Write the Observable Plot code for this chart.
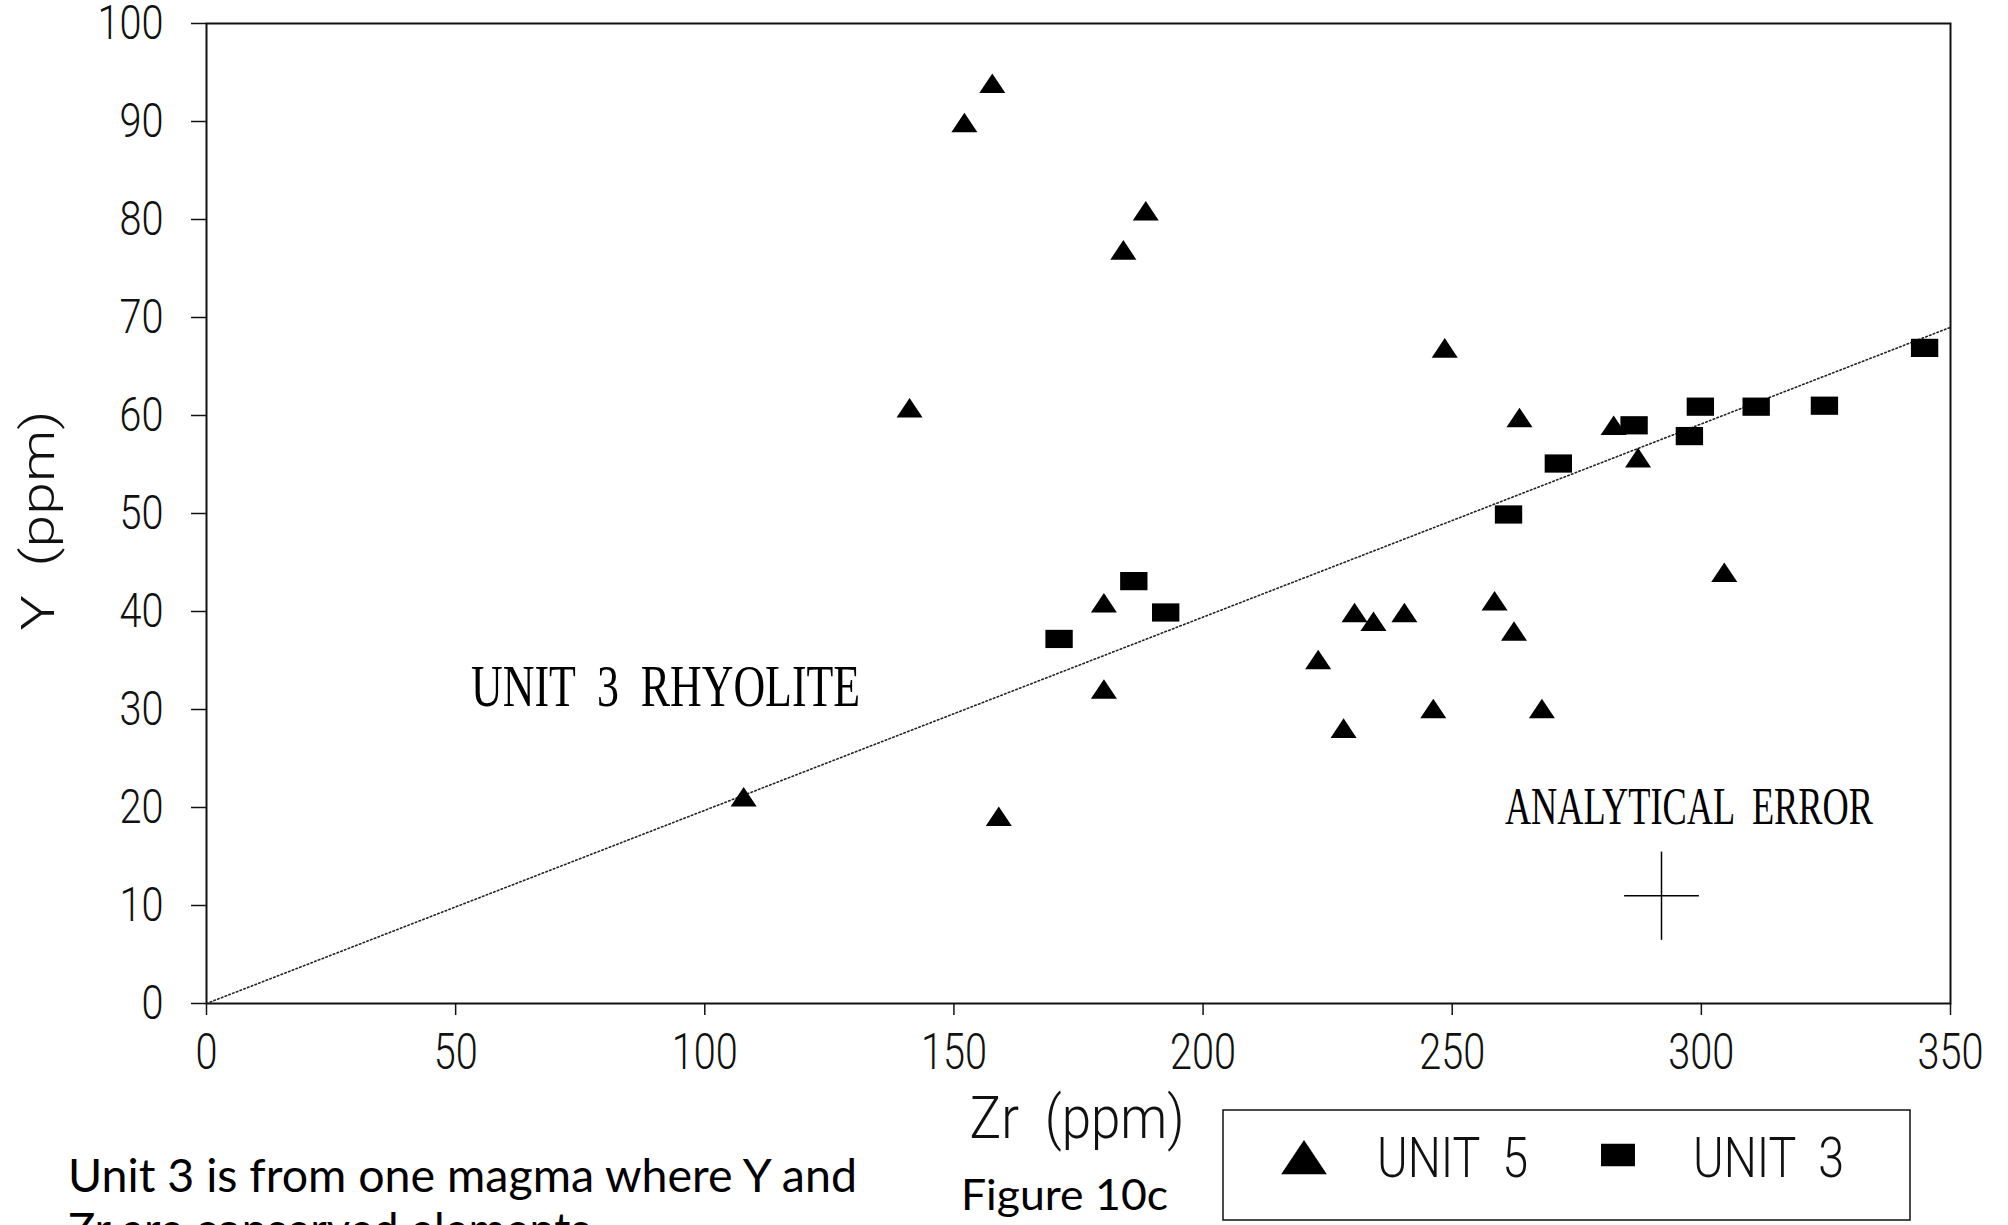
<!DOCTYPE html>
<html>
<head>
<meta charset="utf-8">
<script src="https://cdn.jsdelivr.net/npm/d3@7"></script>
<script src="https://cdn.jsdelivr.net/npm/@observablehq/plot@0.6"></script>
<style>
  html, body { margin: 0; padding: 0; background: #fff; overflow: hidden; }
  #chart { width: 2008px; height: 1225px; }
</style>
</head>
<body>
<div id="chart"></div>
<script>
// ---- data ----
const unit5Zr = [157.7, 152.1, 188.5, 184.0, 141.1, 248.5, 263.5, 282.4, 287.3, 304.6, 258.5, 230.4,
                 234.2, 240.4, 262.4, 223.1, 246.2, 268.0, 228.2, 180.1, 180.1, 159.0, 107.8];
const unit5Y  = [93.9, 89.9, 80.9, 76.9, 60.8, 66.9, 59.8, 59.0, 55.7, 44.0, 41.1, 39.9,
                 39.0, 39.9, 38.0, 35.1, 30.1, 30.1, 28.1, 40.9, 32.1, 19.1, 21.1];
const unit3Zr = [344.8, 299.8, 311.0, 324.7, 286.5, 297.6, 271.3, 261.3, 186.1, 192.5, 171.1];
const unit3Y  = [66.9, 60.9, 60.9, 61.0, 59.0, 57.9, 55.1, 49.9, 43.1, 39.9, 37.2];
const trendZr = [0, 350];
const trendY  = [0, 69];
const errorZr = [292];
const errorY  = [11];
const errorHalfZr = [7.5];
const errorHalfY  = [4.5];
const xTicks = [0, 50, 100, 150, 200, 250, 300, 350];
const yTicks = [0, 10, 20, 30, 40, 50, 60, 70, 80, 90, 100];
const seriesNames = ["UNIT  5", "UNIT  3"];
const rhyoliteLabel = [{zr: 53.1, y: 32.3, text: "UNIT  3  RHYOLITE"}];
const errorLabel = [{zr: 297.5, y: 20.0, text: "ANALYTICAL  ERROR"}];
const xLabel = "Zr  (ppm)";
const yLabel = "Y  (ppm)";
const captionLines = ["Unit 3 is from one magma where Y and", "Zr are conserved elements"];
const figureLabel = "Figure 10c";

// ---- tables built from the arrays ----
const unit5 = unit5Zr.map((zr, i) => ({zr, y: unit5Y[i]}));
const unit3 = unit3Zr.map((zr, i) => ({zr, y: unit3Y[i]}));
const trend = trendZr.map((zr, i) => ({zr, y: trendY[i]}));
const errorBar = errorZr.map((zr, i) => ({zr, y: errorY[i], dzr: errorHalfZr[i], dy: errorHalfY[i]}));

// flattened marker shapes as in the scanned plot
const flatTriangle = {draw(ctx, size) {
  const w = Math.sqrt(size / 0.375), h = 0.75 * w;
  ctx.moveTo(0, -h / 2); ctx.lineTo(w / 2, h / 2); ctx.lineTo(-w / 2, h / 2); ctx.closePath();
}};
const flatSquare = {draw(ctx, size) {
  const w = Math.sqrt(size * 1.5), h = w / 1.5;
  ctx.rect(-w / 2, -h / 2, w, h);
}};

const thinFont = "Roboto, 'Liberation Sans', sans-serif";
const serifFont = "'Liberation Serif', 'DejaVu Serif', serif";

const chart = Plot.plot({
  width: 2008,
  height: 1225,
  marginLeft: 206,
  marginRight: 58,
  marginTop: 23,
  marginBottom: 222,
  x: {domain: [0, 350]},
  y: {domain: [0, 100]},
  style: {background: "#fff", color: "#111", fontFamily: thinFont},
  marks: [
    Plot.frame({stroke: "#111", strokeWidth: 2}),
    Plot.axisX({ticks: xTicks, tickSize: 12, tickPadding: 18, fontSize: 50, fontWeight: 300, label: null, strokeWidth: 1.5}),
    Plot.axisY({ticks: yTicks, tickSize: 15, tickPadding: 28, fontSize: 49, fontWeight: 300, label: null, strokeWidth: 1.5}),
    Plot.line(trend, {x: "zr", y: "y", stroke: "#222", strokeWidth: 1.6, strokeDasharray: "1.5,2.5"}),
    Plot.dot(unit5, {x: "zr", y: "y", symbol: flatTriangle, r: 9, fill: "#000", stroke: "none"}),
    Plot.dot(unit3, {x: "zr", y: "y", symbol: flatSquare, r: 12.6, fill: "#000", stroke: "none"}),
    Plot.link(errorBar, {x1: d => d.zr - d.dzr, x2: d => d.zr + d.dzr, y1: "y", y2: "y", stroke: "#000", strokeWidth: 1.5}),
    Plot.link(errorBar, {x1: "zr", x2: "zr", y1: d => d.y - d.dy, y2: d => d.y + d.dy, stroke: "#000", strokeWidth: 1.5}),
    Plot.text(rhyoliteLabel, {x: "zr", y: "y", text: "text", textAnchor: "start", fontFamily: serifFont, fontSize: 60, fill: "#000", className: "anno-rhy"}),
    Plot.text(errorLabel, {x: "zr", y: "y", text: "text", textAnchor: "middle", fontFamily: serifFont, fontSize: 53, fill: "#000", className: "anno-err"}),
    Plot.text([xLabel], {frameAnchor: "bottom-left", dx: 763, dy: 134, textAnchor: "start", fontSize: 60, fontWeight: 300, fill: "#111", className: "lab-x"}),
    Plot.text([yLabel], {frameAnchor: "left", dx: -167, dy: 117, rotate: -90, textAnchor: "start", fontSize: 46, fontWeight: 300, fill: "#111", className: "lab-y"})
  ]
});

document.getElementById("chart").appendChild(chart);

const svg = d3.select(chart);
// condensed plotter-style lettering
svg.selectAll('g[aria-label="x-axis tick label"] text, g[aria-label="y-axis tick label"] text')
  .each(function() {
    const t = d3.select(this).text();
    d3.select(this).attr("textLength", 22 * t.length).attr("lengthAdjust", "spacingAndGlyphs");
  });
svg.selectAll("g.anno-rhy text").attr("textLength", 389).attr("lengthAdjust", "spacingAndGlyphs");
svg.selectAll("g.anno-err text").attr("textLength", 368).attr("lengthAdjust", "spacingAndGlyphs");
svg.selectAll("g.lab-x text").attr("textLength", 215).attr("lengthAdjust", "spacingAndGlyphs");
svg.selectAll("g.lab-y text").attr("textLength", 220).attr("lengthAdjust", "spacingAndGlyphs");

// ---- legend box ----
const legend = svg.append("g").attr("class", "legend").attr("text-anchor", "start");
legend.append("rect").attr("x", 1223).attr("y", 1110).attr("width", 687).attr("height", 110)
  .attr("fill", "none").attr("stroke", "#111").attr("stroke-width", 1.5);
legend.append("path").attr("d", d3.symbol(flatTriangle, 782)()).attr("transform", "translate(1304,1157)").attr("fill", "#000");
legend.append("path").attr("d", d3.symbol(flatSquare, 768)()).attr("transform", "translate(1618,1155)").attr("fill", "#000");
[[1377, seriesNames[0]], [1693, seriesNames[1]]].forEach(([lx, name]) => {
  legend.append("text").attr("x", lx).attr("y", 1177).text(name)
    .attr("text-anchor", "start")
    .attr("font-family", thinFont).attr("font-weight", 300).attr("font-size", 55).attr("fill", "#111")
    .attr("textLength", 151).attr("lengthAdjust", "spacingAndGlyphs");
});

// ---- caption ----
const cap = svg.append("g").attr("class", "caption").attr("text-anchor", "start")
  .attr("font-family", "Lato, 'Open Sans', sans-serif").attr("fill", "#000");
cap.append("text").attr("x", 68).attr("y", 1192).attr("font-size", 47).text(captionLines[0])
  .attr("textLength", 789).attr("lengthAdjust", "spacingAndGlyphs");
cap.append("text").attr("x", 68).attr("y", 1246).attr("font-size", 47).text(captionLines[1])
  .attr("textLength", 522).attr("lengthAdjust", "spacingAndGlyphs");
cap.append("text").attr("x", 961).attr("y", 1210).attr("font-size", 42).text(figureLabel)
  .attr("textLength", 207).attr("lengthAdjust", "spacingAndGlyphs");
</script>
</body>
</html>
